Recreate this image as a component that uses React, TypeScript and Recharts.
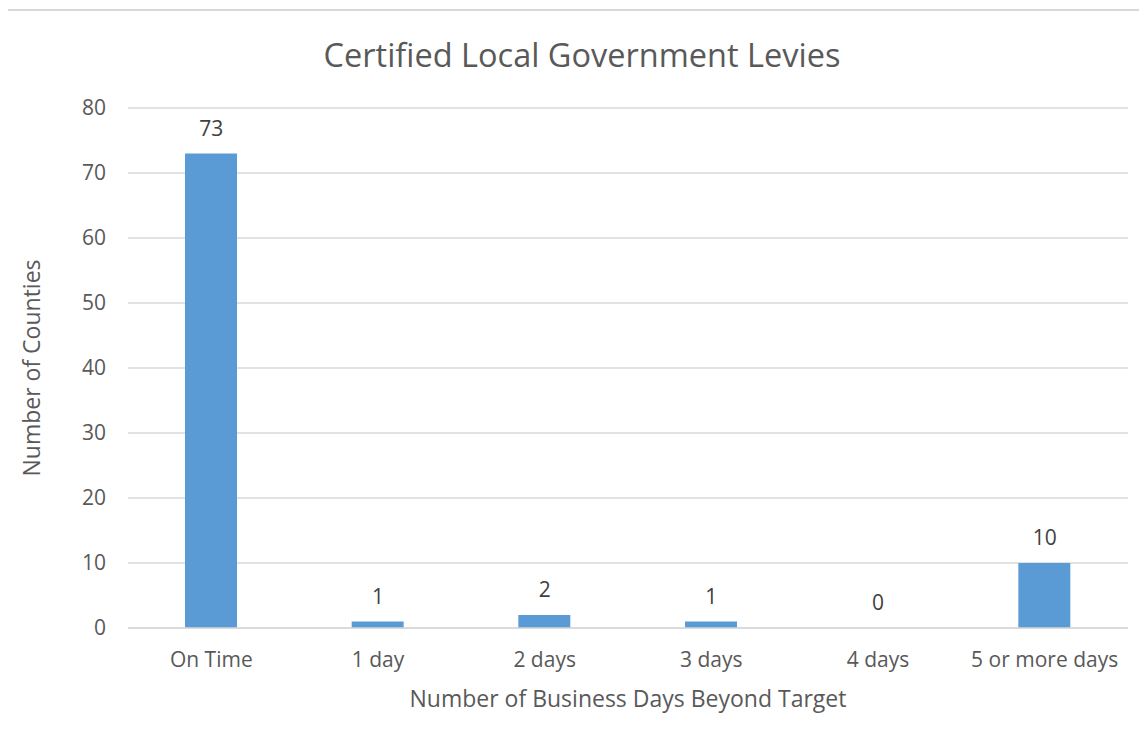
import { ComposedChart, Bar, Line, XAxis, YAxis, CartesianGrid, LabelList, Label } from "recharts";

const categories = ["On Time", "1 day", "2 days", "3 days", "4 days", "5 or more days"];
const counties = [73, 1, 2, 1, 0, 10];
const yTicks = [0, 10, 20, 30, 40, 50, 60, 70, 80];

const TEXT = "#595959";
const BAR = "#5B9BD5";
const GRID = "#D9D9D9";
const FONT = "'Open Sans', 'Noto Sans', sans-serif";

const data = categories.map((name, i) => ({ name, value: counties[i] }));

export default function App() {
  return (
    <div
      style={{
        position: "relative",
        marginLeft: -2,
        marginTop: 1,
        width: 1141,
        height: 732,
        overflow: "hidden",
        borderTop: `2px solid ${GRID}`,
        borderLeft: `2px solid ${GRID}`,
        boxSizing: "border-box",
        background: "#fff",
        fontFamily: FONT,
      }}
    >
      {/* Title */}
      <div
        style={{
          position: "absolute",
          left: 0,
          top: 23,
          width: 1148,
          textAlign: "center",
          fontSize: 32.5,
          lineHeight: "42px",
          color: TEXT,
        }}
      >
        Certified Local Government Levies
      </div>
      <ComposedChart
        width={1150}
        height={740}
        data={data}
        margin={{ top: 97, right: 30, left: 0, bottom: 23 }}
        barSize={52}
        style={{ fontFamily: FONT }}
      >
        <CartesianGrid vertical={false} stroke={GRID} strokeWidth={1.5} />
        <XAxis
          dataKey="name"
          height={100}
          axisLine={{ stroke: GRID, strokeWidth: 1.5 }}
          tickLine={false}
          tickSize={0}
          tickMargin={24}
          tick={{ fill: TEXT, fontSize: 21 }}
        >
          <Label
            value="Number of Business Days Beyond Target"
            position="insideBottom"
            offset={21}
            style={{ fill: TEXT, fontSize: 23 }}
          />
        </XAxis>
        <YAxis
          width={120}
          domain={[0, 80]}
          ticks={yTicks}
          axisLine={false}
          tickLine={false}
          tickSize={0}
          tickMargin={22}
          tick={{ fill: TEXT, fontSize: 21 }}
        >
          <Label
            value="Number of Counties"
            angle={-90}
            position="insideLeft"
            offset={24}
            style={{ fill: TEXT, fontSize: 23, textAnchor: "middle" }}
          />
        </YAxis>
        <Bar dataKey="value" fill={BAR} isAnimationActive={false} />
        {/* invisible series that carries the value labels, so the 0 gets one too */}
        <Line
          dataKey="value"
          stroke="none"
          dot={false}
          activeDot={false}
          legendType="none"
          isAnimationActive={false}
        >
          <LabelList dataKey="value" position="top" offset={18} style={{ fill: "#404040", fontSize: 21 }} />
        </Line>
      </ComposedChart>
    </div>
  );
}
